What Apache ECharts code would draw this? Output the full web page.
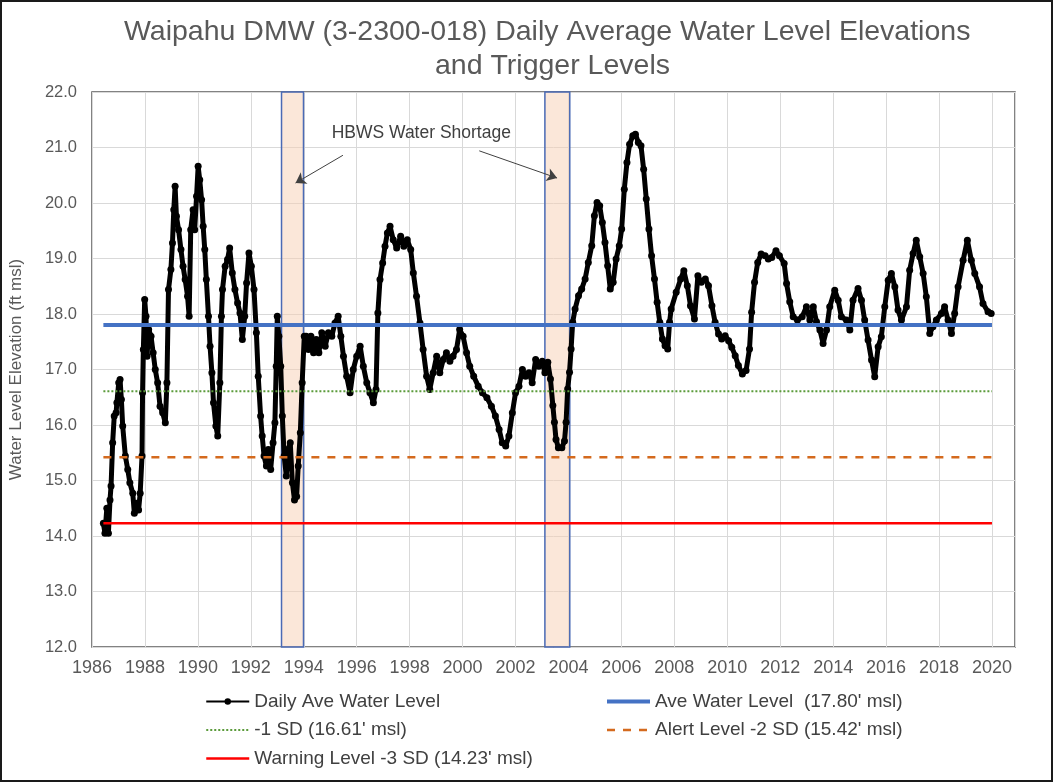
<!DOCTYPE html>
<html>
<head>
<meta charset="utf-8">
<script src="https://cdn.jsdelivr.net/npm/echarts@6/dist/echarts.min.js"></script>
<style>
  html, body { margin: 0; padding: 0; background: #fff; }
  #chart { position: absolute; left: 0; top: 0; width: 1053px; height: 782px; }
  #frame { position: absolute; left: 0; top: 0; width: 1049px; height: 778px; border: 2px solid #1a1a1a; pointer-events: none; }
</style>
</head>
<body>
<div id="chart"></div>
<div id="frame"></div>
<script>
// decimal year of each reading
const years = [
  1986.43, 1986.49, 1986.56, 1986.62, 1986.68, 1986.72, 1986.78, 1986.84, 1986.91, 1986.94,
  1987.01, 1987.06, 1987.11, 1987.16, 1987.26, 1987.35, 1987.43, 1987.54, 1987.60, 1987.69,
  1987.76, 1987.82, 1987.89, 1987.91, 1987.94, 1987.99, 1988.04, 1988.08, 1988.14, 1988.23,
  1988.31, 1988.39, 1988.48, 1988.57, 1988.67, 1988.77, 1988.83, 1988.89, 1988.98, 1989.04,
  1989.09, 1989.14, 1989.19, 1989.27, 1989.36, 1989.44, 1989.52, 1989.61, 1989.67, 1989.73,
  1989.82, 1989.88, 1989.95, 1990.01, 1990.07, 1990.14, 1990.20, 1990.26, 1990.32, 1990.40,
  1990.46, 1990.53, 1990.59, 1990.68, 1990.75, 1990.83, 1990.89, 1990.93, 1991.03, 1991.12,
  1991.20, 1991.30, 1991.40, 1991.50, 1991.59, 1991.68, 1991.77, 1991.84, 1991.93, 1992.02,
  1992.12, 1992.21, 1992.28, 1992.37, 1992.43, 1992.50, 1992.59, 1992.66, 1992.75, 1992.84,
  1992.91, 1992.96, 1993.00, 1993.06, 1993.13, 1993.19, 1993.26, 1993.34, 1993.41, 1993.49,
  1993.57, 1993.65, 1993.73, 1993.79, 1993.87, 1993.94, 1994.02, 1994.09, 1994.18, 1994.27,
  1994.37, 1994.47, 1994.57, 1994.68, 1994.81, 1994.93, 1995.06, 1995.18, 1995.30, 1995.40,
  1995.50, 1995.62, 1995.75, 1995.87, 1996.00, 1996.13, 1996.25, 1996.38, 1996.50, 1996.63,
  1996.73, 1996.80, 1996.88, 1996.98, 1997.07, 1997.16, 1997.26, 1997.38, 1997.51, 1997.66,
  1997.78, 1997.91, 1998.04, 1998.14, 1998.26, 1998.39, 1998.51, 1998.64, 1998.76, 1998.89,
  1999.02, 1999.14, 1999.27, 1999.39, 1999.52, 1999.64, 1999.77, 1999.89, 2000.02, 2000.15,
  2000.27, 2000.42, 2000.59, 2000.75, 2000.92, 2001.09, 2001.24, 2001.38, 2001.50, 2001.63,
  2001.75, 2001.88, 2002.00, 2002.13, 2002.26, 2002.38, 2002.51, 2002.63, 2002.76, 2002.88,
  2003.01, 2003.11, 2003.22, 2003.32, 2003.41, 2003.47, 2003.53, 2003.62, 2003.75, 2003.85,
  2003.91, 2003.97, 2004.04, 2004.10, 2004.16, 2004.25, 2004.38, 2004.50, 2004.63, 2004.75,
  2004.88, 2004.98, 2005.08, 2005.18, 2005.28, 2005.38, 2005.48, 2005.58, 2005.69, 2005.80,
  2005.92, 2006.01, 2006.11, 2006.21, 2006.31, 2006.43, 2006.53, 2006.64, 2006.74, 2006.84,
  2006.94, 2007.04, 2007.14, 2007.25, 2007.35, 2007.45, 2007.55, 2007.65, 2007.75, 2007.82,
  2007.88, 2008.07, 2008.24, 2008.36, 2008.49, 2008.61, 2008.76, 2008.89, 2009.02, 2009.17,
  2009.29, 2009.42, 2009.54, 2009.67, 2009.79, 2009.92, 2010.05, 2010.17, 2010.30, 2010.42,
  2010.57, 2010.71, 2010.84, 2010.92, 2011.03, 2011.15, 2011.28, 2011.43, 2011.55, 2011.68,
  2011.84, 2011.97, 2012.15, 2012.24, 2012.36, 2012.49, 2012.65, 2012.83, 2012.99, 2013.12,
  2013.25, 2013.37, 2013.50, 2013.62, 2013.75, 2013.87, 2014.06, 2014.19, 2014.31, 2014.50,
  2014.63, 2014.75, 2014.94, 2015.07, 2015.19, 2015.32, 2015.45, 2015.57, 2015.70, 2015.82,
  2015.95, 2016.08, 2016.20, 2016.33, 2016.45, 2016.58, 2016.77, 2016.89, 2017.02, 2017.14,
  2017.27, 2017.40, 2017.52, 2017.65, 2017.77, 2017.90, 2018.09, 2018.21, 2018.34, 2018.47,
  2018.59, 2018.72, 2018.91, 2019.07, 2019.22, 2019.35, 2019.53, 2019.66, 2019.85, 2019.97
];
// water level elevation (ft msl) for each year above
const levels = [
  14.23, 14.05, 14.50, 14.05, 14.65, 14.90, 15.68, 16.16, 16.22, 16.40,
  16.76, 16.82, 16.46, 15.98, 15.44, 15.20, 14.96, 14.77, 14.41, 14.59,
  14.47, 14.77, 15.44, 16.58, 17.36, 18.26, 17.96, 17.24, 17.72, 17.60,
  17.30, 17.00, 16.76, 16.34, 16.22, 16.04, 16.76, 18.44, 18.80, 19.28,
  19.88, 20.30, 19.76, 19.52, 19.16, 18.86, 18.62, 18.32, 17.96, 19.52,
  19.88, 19.52, 20.12, 20.66, 20.42, 20.06, 19.58, 19.16, 18.62, 17.96,
  17.42, 16.94, 16.40, 15.98, 15.80, 16.76, 17.96, 18.44, 18.86, 18.98,
  19.19, 18.74, 18.44, 18.20, 18.02, 17.54, 17.96, 18.56, 19.10, 18.86,
  18.44, 17.66, 16.88, 16.16, 15.80, 15.44, 15.26, 15.56, 15.20, 15.68,
  16.04, 17.06, 17.96, 17.60, 17.06, 16.16, 15.44, 15.08, 15.56, 15.68,
  14.96, 14.65, 14.71, 15.26, 15.86, 16.76, 17.60, 17.60, 17.36, 17.60,
  17.30, 17.54, 17.30, 17.66, 17.42, 17.66, 17.60, 17.84, 17.96, 17.60,
  17.24, 16.88, 16.58, 17.00, 17.24, 17.42, 17.06, 16.76, 16.58, 16.40,
  16.64, 18.02, 18.62, 18.92, 19.22, 19.46, 19.58, 19.34, 19.19, 19.40,
  19.22, 19.34, 19.16, 18.74, 18.32, 17.84, 17.36, 16.88, 16.64, 16.94,
  17.24, 16.94, 17.18, 17.30, 17.15, 17.24, 17.36, 17.72, 17.60, 17.30,
  17.06, 16.88, 16.70, 16.58, 16.49, 16.34, 16.16, 15.92, 15.68, 15.62,
  15.80, 16.22, 16.58, 16.70, 17.00, 16.88, 16.94, 16.76, 17.18, 17.06,
  17.15, 16.94, 17.13, 16.83, 16.35, 16.05, 15.74, 15.59, 15.59, 15.71,
  16.05, 16.65, 16.95, 17.37, 17.85, 18.09, 18.33, 18.45, 18.63, 18.93,
  19.23, 19.77, 20.01, 19.95, 19.65, 19.29, 18.87, 18.45, 18.57, 18.99,
  19.23, 19.53, 20.25, 20.73, 21.06, 21.21, 21.24, 21.09, 21.03, 20.61,
  20.07, 19.53, 19.05, 18.63, 18.21, 17.85, 17.55, 17.43, 17.37, 17.85,
  18.09, 18.39, 18.63, 18.78, 18.51, 18.15, 17.91, 18.69, 18.57, 18.63,
  18.51, 18.15, 17.85, 17.64, 17.55, 17.61, 17.52, 17.40, 17.25, 17.07,
  16.92, 16.98, 17.37, 18.03, 18.57, 18.93, 19.08, 19.05, 18.99, 19.02,
  19.14, 19.05, 18.91, 18.55, 18.22, 17.95, 17.89, 17.95, 18.13, 17.89,
  18.13, 17.86, 17.71, 17.47, 17.71, 18.13, 18.43, 18.25, 17.95, 17.89,
  17.71, 18.25, 18.46, 18.25, 17.89, 17.53, 17.17, 16.87, 17.41, 17.59,
  18.13, 18.61, 18.73, 18.49, 18.07, 17.89, 18.13, 18.79, 19.09, 19.33,
  19.03, 18.73, 18.31, 17.65, 17.77, 17.89, 18.01, 18.13, 17.89, 17.65,
  18.01, 18.49, 18.97, 19.33, 18.97, 18.73, 18.49, 18.19, 18.04, 18.01
];

// trigger levels drawn as flat lines across the record
const triggerNames = [
  "Ave Water Level  (17.80' msl)",
  "-1 SD (16.61' msl)",
  "Alert Level -2 SD (15.42' msl)",
  "Warning Level -3 SD (14.23' msl)"
];
const triggerValues = [17.80, 16.61, 15.42, 14.23];
const lineSpan = [1986.43, 2020.0];

// HBWS water shortage periods
const bandStart = [1993.16, 2003.11];
const bandEnd = [1993.99, 2004.05];

const xTicks = [1986, 1988, 1990, 1992, 1994, 1996, 1998, 2000, 2002, 2004, 2006, 2008, 2010, 2012, 2014, 2016, 2018, 2020];

const font = "'Liberation Sans', Arial, sans-serif";
const grey = '#595959';

const chart = echarts.init(document.getElementById('chart'));

const triggerStyles = [
  { color: '#4472C4', width: 4, type: 'solid' },
  { color: '#5B9B3B', width: 2, type: 'dotted' },
  { color: '#D46A1E', width: 2.5, type: [8, 8] },
  { color: '#FF0000', width: 2.5, type: 'solid' }
];

const triggerSeries = triggerNames.map((name, i) => ({
  name: name,
  type: 'line',
  z: 4,
  symbol: 'none',
  silent: true,
  lineStyle: triggerStyles[i],
  itemStyle: { color: triggerStyles[i].color },
  data: lineSpan.map(x => [x, triggerValues[i]])
}));

// legend entries for the flat lines show only the line, no marker
const lineOnly = i => ({
  name: triggerNames[i],
  itemStyle: { opacity: 0 },
  lineStyle: { width: triggerStyles[i].width, type: triggerStyles[i].type, color: triggerStyles[i].color }
});

const legendBase = {
  orient: 'vertical', top: 692, padding: 0, itemWidth: 43, itemHeight: 8, itemGap: 9.5,
  textStyle: { fontSize: 19, color: '#404040', fontFamily: font }
};

chart.setOption({
  animation: false,
  textStyle: { fontFamily: font },
  title: [
    {
      text: 'Waipahu DMW (3-2300-018) Daily Average Water Level Elevations',
      left: 119, top: 13,
      textStyle: { fontSize: 28.5, fontWeight: 'normal', color: grey, fontFamily: font }
    },
    {
      text: 'and Trigger Levels',
      left: 430, top: 47,
      textStyle: { fontSize: 28.5, fontWeight: 'normal', color: grey, fontFamily: font }
    }
  ],
  grid: {
    left: 90, right: 38, top: 92, bottom: 135,
    show: true, borderColor: '#595959', borderWidth: 1.5, backgroundColor: 'transparent'
  },
  legend: [
    Object.assign({}, legendBase, {
      left: 205,
      data: [
        { name: 'Daily Ave Water Level', lineStyle: { width: 2 } },
        lineOnly(1), lineOnly(3)
      ]
    }),
    Object.assign({}, legendBase, {
      left: 605,
      data: [lineOnly(0), lineOnly(2)]
    })
  ],
  xAxis: {
    type: 'value',
    min: 1986, max: 2020.87, interval: 2,
    axisLine: { show: false },
    axisTick: { show: false },
    axisLabel: {
      fontSize: 18, color: grey, margin: 12, fontFamily: font,
      formatter: v => (xTicks.indexOf(v) >= 0 ? String(v) : '')
    },
    splitLine: { show: true, lineStyle: { color: '#D9D9D9', width: 1 } }
  },
  yAxis: {
    type: 'value',
    min: 12, max: 22, interval: 1,
    name: 'Water Level Elevation (ft msl)',
    nameLocation: 'middle', nameGap: 67,
    nameTextStyle: { fontSize: 17, color: grey, fontFamily: font },
    axisLine: { show: false },
    axisTick: { show: false },
    axisLabel: { fontSize: 16.5, color: grey, margin: 15, fontFamily: font, formatter: v => v.toFixed(1) },
    splitLine: { show: true, lineStyle: { color: '#D9D9D9', width: 1 } }
  },
  series: [
    {
      name: 'Daily Ave Water Level',
      type: 'line',
      z: 3,
      symbol: 'circle',
      symbolSize: 7,
      showAllSymbol: true,
      lineStyle: { color: '#000', width: 5 },
      itemStyle: { color: '#000' },
      data: years.map((y, i) => [y, levels[i]])
    },
    ...triggerSeries,
    {
      name: 'shortage',
      type: 'line',
      z: 6,
      silent: true,
      data: [],
      markArea: {
        silent: true,
        itemStyle: { color: 'rgba(248, 208, 180, 0.5)', borderColor: '#4A6AB5', borderWidth: 1.5 },
        data: bandStart.map((s, i) => [{ xAxis: s }, { xAxis: bandEnd[i] }])
      },
      markLine: {
        silent: true,
        symbol: ['none', 'arrow'],
        symbolSize: 10,
        label: { show: false },
        lineStyle: { color: '#404040', width: 1, type: 'solid' },
        data: [
          [{ coord: [1995.48, 20.86] }, { coord: [1993.69, 20.36] }],
          [{ coord: [2000.63, 20.94] }, { coord: [2003.57, 20.45] }]
        ]
      },
      markPoint: {
        silent: true,
        symbol: 'circle',
        symbolSize: 0,
        label: { show: true, position: 'inside', formatter: 'HBWS Water Shortage', fontSize: 17.5, color: '#404040', fontFamily: font },
        data: [{ coord: [1998.44, 21.26] }]
      }
    }
  ]
});
</script>
</body>
</html>
